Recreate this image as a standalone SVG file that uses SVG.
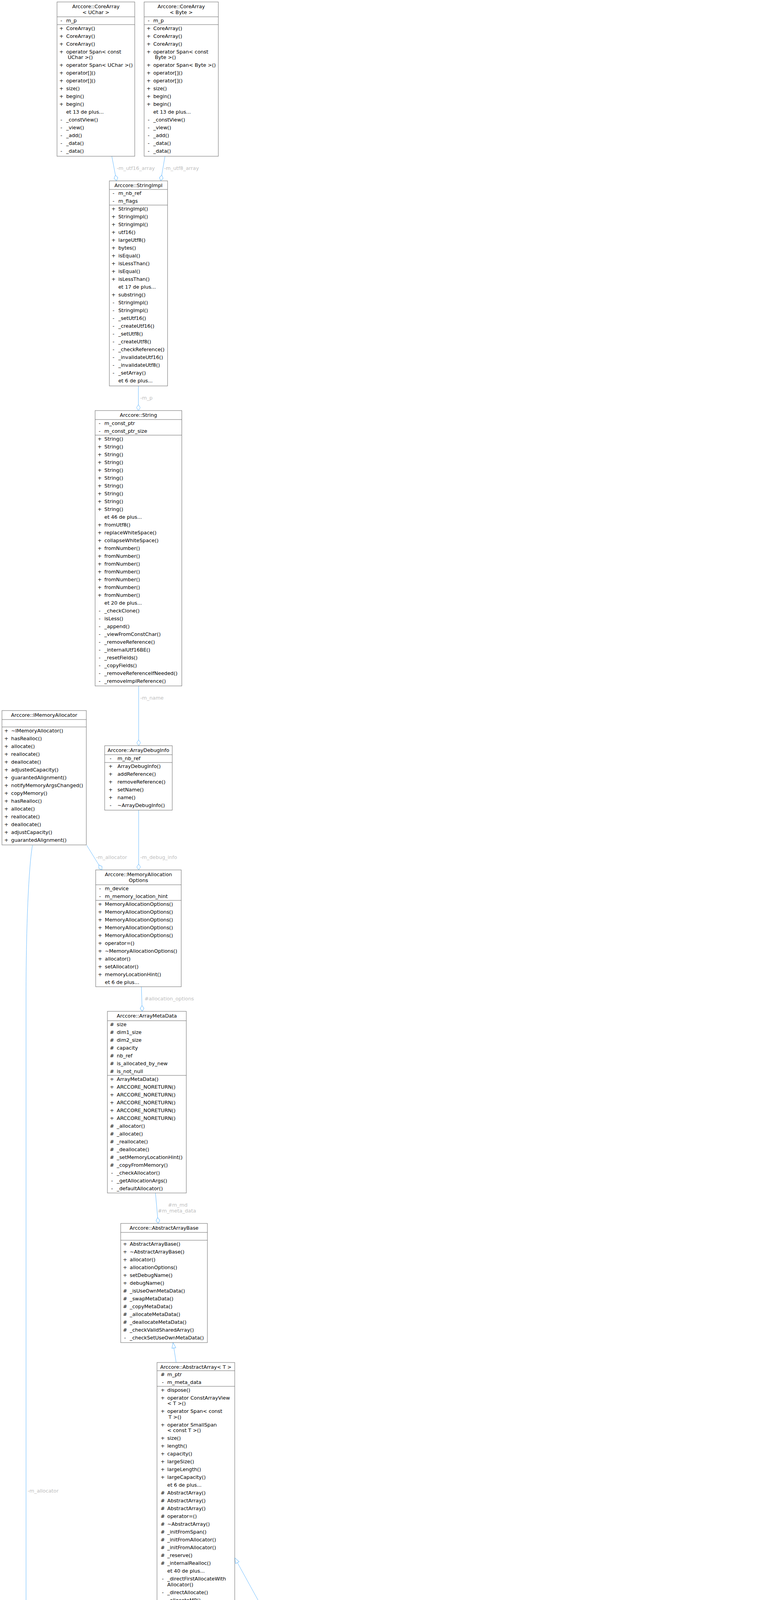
<svg xmlns="http://www.w3.org/2000/svg" width="1951" height="6260" viewBox="0 0 1951 6260">
<defs>
<style>
text{font-family:"DejaVu Sans",Verdana,sans-serif;font-size:12.8px;fill:#000}
.c{text-anchor:middle}
.b{fill:#fff;stroke:#666;stroke-width:1}
.h{fill:#999;stroke:#666;stroke-width:1}
.u{fill:#fff;stroke:#bfbfbf;stroke-width:1}
.d{fill:none;stroke:#666;stroke-width:1}
.du{fill:none;stroke:#bfbfbf;stroke-width:1}
.e{fill:none;stroke:#63b8ff;stroke-width:1}
.ed{marker-end:url(#dia)}
.ei{marker-end:url(#tri)}
.l{fill:#bebebe}
.lc{fill:#bebebe;text-anchor:middle}
</style>
<marker id="dia" markerUnits="userSpaceOnUse" markerWidth="17" markerHeight="12" refX="15" refY="5" orient="auto" overflow="visible"><path d="M0,5L7.5,0.2L15,5L7.5,9.8Z" fill="#fff" stroke="#63b8ff" stroke-width="1"/></marker>
<marker id="tri" markerUnits="userSpaceOnUse" markerWidth="15" markerHeight="11" refX="14" refY="5" orient="auto" overflow="visible"><path d="M0,0L14,5L0,10Z" fill="#fff" stroke="#63b8ff" stroke-width="1"/></marker>
</defs>
<rect width="1951" height="6260" fill="#fff"/>

<g id="connectors">
<path class="e ed" d="M286.3,400L298.3,463"/>
<path class="e ed" d="M422.4,400L411.6,463"/>
<path class="e ed" d="M354.3,988L354.3,1051"/>
<path class="e ed" d="M355,1756L355,1909"/>
<path class="e ed" d="M355,2074L355,2227"/>
<path class="e ed" d="M222,2164L261,2227"/>
<path class="e ed" d="M362,2526L364,2589"/>
<path class="e ed" d="M398,3054L405,3132"/>
<path class="e ei" d="M451,3488L443,3437"/>
<path class="e ei" d="M433,4200L439.4,4151"/>
<path class="e ei" d="M570.7,4200L563.6,4151"/>
<path class="e ei" d="M730,4222L601,3988"/>
<path class="e ei" d="M406,4701L403.6,4629"/>
<path class="e ei" d="M610.5,4701L610.7,4629"/>
<path class="e ei" d="M826.4,5028L826.6,4629"/>
<path class="e ei" d="M1340.6,5332L1405.6,4874"/>
<path class="e ed" d="M1195.5,4889L1258,5332"/>
<path class="e ed" d="M383,4981C370,5080 366,5200 375,5280C382,5340 395,5370 405,5395"/>
<path class="e ed" d="M582,4981C568,5070 555,5200 545,5300C541,5345 537,5375 535,5395"/>
<path class="e ed" d="M217,5004C222,5110 236,5230 250,5285C262,5325 290,5324 330,5322C370,5320 400,5350 421,5395"/>
<path class="e ed" d="M654,4981C673,5080 688,5230 690,5380C692,5560 700,5800 744,5935"/>
<path class="e ed" d="M826,5308L821,5935"/>
<path class="e ed" d="M522,5809C535,5890 575,5955 640,5998C672,6020 700,6036 718,6043"/>
<path class="e ed" d="M83,2164C72,2230 66.7,2400 66.7,2540L66.7,5600C66.7,5690 47,5720 47,5790C47,5850 100,5895 200,5935C320,5985 520,6040 718,6078"/>
<path class="e ed" d="M154,5004C135,5100 95,5280 87,5400C80,5530 100,5660 150,5740C210,5840 300,5950 420,6025C520,6075 630,6088 718,6090"/>
<path class="e ed" d="M989,5729C970,5790 920,5880 897,5935"/>
<path class="e ed" d="M1191,5856C1150,5925 1060,5985 990,6015C960,6030 940,6042 922,6050"/>
<path class="e ed" d="M1543,5682C1505,5800 1460,5850 1390,5893C1280,5960 1100,6040 922,6078"/>
<path class="e ed" d="M1828,5645C1812,5760 1775,5840 1700,5885C1580,5950 1420,5985 1276,6015C1140,6043 1020,6062 922,6078"/>
<text class="l" x="299" y="434.5">-m_utf16_array</text>
<text class="l" x="420" y="434.5">-m_utf8_array</text>
<text class="l" x="359" y="1023">-m_p</text>
<text class="l" x="359" y="1790.5">-m_name</text>
<text class="l" x="359" y="2198.5">-m_debug_info</text>
<text class="l" x="246" y="2198.5">-m_allocator</text>
<text class="l" x="370" y="2560.5">#allocation_options</text>
<text class="lc" x="455" y="3088.5">#m_md</text>
<text class="lc" x="453" y="3103.5">#m_meta_data</text>
<text class="lc" x="1300" y="5170.5">-m_instance</text>
<text class="lc" x="464.6" y="5171.5">-m_compare_status_list</text>
<text class="lc" x="621" y="5171.5">-m_variables</text>
<text class="lc" x="312" y="5149">+elapsed_time</text>
<text class="lc" x="312" y="5164">+state</text>
<text class="lc" x="312" y="5179">+vs</text>
<text class="lc" x="312" y="5193.5">-m_var_syncer</text>
<text class="l" x="70.7" y="3821">-m_allocator</text>
<text class="l" x="205" y="5605">-m_variable_synchronizer</text>
<text class="l" x="731.8" y="5605">-m_variables</text>
<text class="l" x="831" y="5605">-m_data_list</text>
<text class="l" x="568" y="5907.5">-m_event_args</text>
<text class="l" x="912" y="5906.5">-m_variable_synchronizer_mng</text>
<text class="l" x="1157" y="5906.5">-m_dispatcher</text>
<text class="l" x="1386.7" y="5906.5">-m_multi_dispatcher</text>
<text class="l" x="1669" y="5906.5">-m_synchronize_result</text>
</g>

<g id="n-corearray-uchar">
<rect class="b" x="146" y="5" width="199" height="395"/>
<text class="c" x="245.5" y="21">Arccore::CoreArray</text>
<text class="c" x="245.5" y="35.5">&lt; UChar &gt;</text>
<path class="d" d="M146,43H345M146,63H345"/>
<text class="c"><tspan x="157" y="56.5">-</tspan><tspan x="157" y="76.5">+</tspan><tspan x="157" y="96.5">+</tspan><tspan x="157" y="116.5">+</tspan><tspan x="157" y="136.5">+</tspan><tspan x="157" y="171">+</tspan><tspan x="157" y="191">+</tspan><tspan x="157" y="211">+</tspan><tspan x="157" y="231">+</tspan><tspan x="157" y="251">+</tspan><tspan x="157" y="271">+</tspan><tspan x="157" y="311">-</tspan><tspan x="157" y="331">-</tspan><tspan x="157" y="351">-</tspan><tspan x="157" y="371">-</tspan><tspan x="157" y="391">-</tspan></text>
<text><tspan x="169.5" y="56.5">m_p</tspan><tspan x="169.5" y="76.5">CoreArray()</tspan><tspan x="169.5" y="96.5">CoreArray()</tspan><tspan x="169.5" y="116.5">CoreArray()</tspan><tspan x="169.5" y="136.5">operator Span&lt; const</tspan><tspan x="173.5" y="151">UChar &gt;()</tspan><tspan x="169.5" y="171">operator Span&lt; UChar &gt;()</tspan><tspan x="169.5" y="191">operator[]()</tspan><tspan x="169.5" y="211">operator[]()</tspan><tspan x="169.5" y="231">size()</tspan><tspan x="169.5" y="251">begin()</tspan><tspan x="169.5" y="271">begin()</tspan><tspan x="169.5" y="291">et 13 de plus...</tspan><tspan x="169.5" y="311">_constView()</tspan><tspan x="169.5" y="331">_view()</tspan><tspan x="169.5" y="351">_add()</tspan><tspan x="169.5" y="371">_data()</tspan><tspan x="169.5" y="391">_data()</tspan></text>
</g>

<g id="n-corearray-byte">
<rect class="b" x="369" y="5" width="190" height="395"/>
<text class="c" x="464" y="21">Arccore::CoreArray</text>
<text class="c" x="464" y="35.5">&lt; Byte &gt;</text>
<path class="d" d="M369,43H559M369,63H559"/>
<text class="c"><tspan x="380.5" y="56.5">-</tspan><tspan x="380.5" y="76.5">+</tspan><tspan x="380.5" y="96.5">+</tspan><tspan x="380.5" y="116.5">+</tspan><tspan x="380.5" y="136.5">+</tspan><tspan x="380.5" y="171">+</tspan><tspan x="380.5" y="191">+</tspan><tspan x="380.5" y="211">+</tspan><tspan x="380.5" y="231">+</tspan><tspan x="380.5" y="251">+</tspan><tspan x="380.5" y="271">+</tspan><tspan x="380.5" y="311">-</tspan><tspan x="380.5" y="331">-</tspan><tspan x="380.5" y="351">-</tspan><tspan x="380.5" y="371">-</tspan><tspan x="380.5" y="391">-</tspan></text>
<text><tspan x="392.5" y="56.5">m_p</tspan><tspan x="392.5" y="76.5">CoreArray()</tspan><tspan x="392.5" y="96.5">CoreArray()</tspan><tspan x="392.5" y="116.5">CoreArray()</tspan><tspan x="392.5" y="136.5">operator Span&lt; const</tspan><tspan x="396.5" y="151">Byte &gt;()</tspan><tspan x="392.5" y="171">operator Span&lt; Byte &gt;()</tspan><tspan x="392.5" y="191">operator[]()</tspan><tspan x="392.5" y="211">operator[]()</tspan><tspan x="392.5" y="231">size()</tspan><tspan x="392.5" y="251">begin()</tspan><tspan x="392.5" y="271">begin()</tspan><tspan x="392.5" y="291">et 13 de plus...</tspan><tspan x="392.5" y="311">_constView()</tspan><tspan x="392.5" y="331">_view()</tspan><tspan x="392.5" y="351">_add()</tspan><tspan x="392.5" y="371">_data()</tspan><tspan x="392.5" y="391">_data()</tspan></text>
</g>

<g id="n-stringimpl">
<rect class="b" x="280" y="463" width="149" height="525"/>
<text class="c" x="354.5" y="478.5">Arccore::StringImpl</text>
<path class="d" d="M280,485H429M280,525H429"/>
<text class="c"><tspan x="290.5" y="498.5">-</tspan><tspan x="290.5" y="518.5">-</tspan><tspan x="290.5" y="538.5">+</tspan><tspan x="290.5" y="558.5">+</tspan><tspan x="290.5" y="578.5">+</tspan><tspan x="290.5" y="598.5">+</tspan><tspan x="290.5" y="618.5">+</tspan><tspan x="290.5" y="638.5">+</tspan><tspan x="290.5" y="658.5">+</tspan><tspan x="290.5" y="678.5">+</tspan><tspan x="290.5" y="698.5">+</tspan><tspan x="290.5" y="718.5">+</tspan><tspan x="290.5" y="758.5">+</tspan><tspan x="290.5" y="778.5">-</tspan><tspan x="290.5" y="798.5">-</tspan><tspan x="290.5" y="818.5">-</tspan><tspan x="290.5" y="838.5">-</tspan><tspan x="290.5" y="858.5">-</tspan><tspan x="290.5" y="878.5">-</tspan><tspan x="290.5" y="898.5">-</tspan><tspan x="290.5" y="918.5">-</tspan><tspan x="290.5" y="938.5">-</tspan><tspan x="290.5" y="958.5">-</tspan></text>
<text><tspan x="303" y="498.5">m_nb_ref</tspan><tspan x="303" y="518.5">m_flags</tspan><tspan x="303" y="538.5">StringImpl()</tspan><tspan x="303" y="558.5">StringImpl()</tspan><tspan x="303" y="578.5">StringImpl()</tspan><tspan x="303" y="598.5">utf16()</tspan><tspan x="303" y="618.5">largeUtf8()</tspan><tspan x="303" y="638.5">bytes()</tspan><tspan x="303" y="658.5">isEqual()</tspan><tspan x="303" y="678.5">isLessThan()</tspan><tspan x="303" y="698.5">isEqual()</tspan><tspan x="303" y="718.5">isLessThan()</tspan><tspan x="303" y="738.5">et 17 de plus...</tspan><tspan x="303" y="758.5">substring()</tspan><tspan x="303" y="778.5">StringImpl()</tspan><tspan x="303" y="798.5">StringImpl()</tspan><tspan x="303" y="818.5">_setUtf16()</tspan><tspan x="303" y="838.5">_createUtf16()</tspan><tspan x="303" y="858.5">_setUtf8()</tspan><tspan x="303" y="878.5">_createUtf8()</tspan><tspan x="303" y="898.5">_checkReference()</tspan><tspan x="303" y="918.5">_invalidateUtf16()</tspan><tspan x="303" y="938.5">_invalidateUtf8()</tspan><tspan x="303" y="958.5">_setArray()</tspan><tspan x="303" y="978.5">et 6 de plus...</tspan></text>
</g>

<g id="n-string">
<rect class="b" x="243.5" y="1051" width="222" height="705"/>
<text class="c" x="354.5" y="1066.5">Arccore::String</text>
<path class="d" d="M243.5,1074H465.5M243.5,1114H465.5"/>
<text class="c"><tspan x="255" y="1087.5">-</tspan><tspan x="255" y="1107.5">-</tspan><tspan x="255" y="1127.5">+</tspan><tspan x="255" y="1147.5">+</tspan><tspan x="255" y="1167.5">+</tspan><tspan x="255" y="1187.5">+</tspan><tspan x="255" y="1207.5">+</tspan><tspan x="255" y="1227.5">+</tspan><tspan x="255" y="1247.5">+</tspan><tspan x="255" y="1267.5">+</tspan><tspan x="255" y="1287.5">+</tspan><tspan x="255" y="1307.5">+</tspan><tspan x="255" y="1347.5">+</tspan><tspan x="255" y="1367.5">+</tspan><tspan x="255" y="1387.5">+</tspan><tspan x="255" y="1407.5">+</tspan><tspan x="255" y="1427.5">+</tspan><tspan x="255" y="1447.5">+</tspan><tspan x="255" y="1467.5">+</tspan><tspan x="255" y="1487.5">+</tspan><tspan x="255" y="1507.5">+</tspan><tspan x="255" y="1527.5">+</tspan><tspan x="255" y="1567.5">-</tspan><tspan x="255" y="1587.5">-</tspan><tspan x="255" y="1607.5">-</tspan><tspan x="255" y="1627.5">-</tspan><tspan x="255" y="1647.5">-</tspan><tspan x="255" y="1667.5">-</tspan><tspan x="255" y="1687.5">-</tspan><tspan x="255" y="1707.5">-</tspan><tspan x="255" y="1727.5">-</tspan><tspan x="255" y="1747.5">-</tspan></text>
<text><tspan x="267.3" y="1087.5">m_const_ptr</tspan><tspan x="267.3" y="1107.5">m_const_ptr_size</tspan><tspan x="267.3" y="1127.5">String()</tspan><tspan x="267.3" y="1147.5">String()</tspan><tspan x="267.3" y="1167.5">String()</tspan><tspan x="267.3" y="1187.5">String()</tspan><tspan x="267.3" y="1207.5">String()</tspan><tspan x="267.3" y="1227.5">String()</tspan><tspan x="267.3" y="1247.5">String()</tspan><tspan x="267.3" y="1267.5">String()</tspan><tspan x="267.3" y="1287.5">String()</tspan><tspan x="267.3" y="1307.5">String()</tspan><tspan x="267.3" y="1327.5">et 46 de plus...</tspan><tspan x="267.3" y="1347.5">fromUtf8()</tspan><tspan x="267.3" y="1367.5">replaceWhiteSpace()</tspan><tspan x="267.3" y="1387.5">collapseWhiteSpace()</tspan><tspan x="267.3" y="1407.5">fromNumber()</tspan><tspan x="267.3" y="1427.5">fromNumber()</tspan><tspan x="267.3" y="1447.5">fromNumber()</tspan><tspan x="267.3" y="1467.5">fromNumber()</tspan><tspan x="267.3" y="1487.5">fromNumber()</tspan><tspan x="267.3" y="1507.5">fromNumber()</tspan><tspan x="267.3" y="1527.5">fromNumber()</tspan><tspan x="267.3" y="1547.5">et 20 de plus...</tspan><tspan x="267.3" y="1567.5">_checkClone()</tspan><tspan x="267.3" y="1587.5">isLess()</tspan><tspan x="267.3" y="1607.5">_append()</tspan><tspan x="267.3" y="1627.5">_viewFromConstChar()</tspan><tspan x="267.3" y="1647.5">_removeReference()</tspan><tspan x="267.3" y="1667.5">_internalUtf16BE()</tspan><tspan x="267.3" y="1687.5">_resetFields()</tspan><tspan x="267.3" y="1707.5">_copyFields()</tspan><tspan x="267.3" y="1727.5">_removeReferenceIfNeeded()</tspan><tspan x="267.3" y="1747.5">_removeImplReference()</tspan></text>
</g>

<g id="n-imemoryallocator">
<rect class="b" x="5" y="1819" width="216" height="344"/>
<text class="c" x="113" y="1834.5">Arccore::IMemoryAllocator</text>
<path class="d" d="M5,1842H221M5,1861H221"/>
<text class="c"><tspan x="16" y="1874.5">+</tspan><tspan x="16" y="1894.5">+</tspan><tspan x="16" y="1914.5">+</tspan><tspan x="16" y="1934.5">+</tspan><tspan x="16" y="1954.5">+</tspan><tspan x="16" y="1974.5">+</tspan><tspan x="16" y="1994.5">+</tspan><tspan x="16" y="2014.5">+</tspan><tspan x="16" y="2034.5">+</tspan><tspan x="16" y="2054.5">+</tspan><tspan x="16" y="2074.5">+</tspan><tspan x="16" y="2094.5">+</tspan><tspan x="16" y="2114.5">+</tspan><tspan x="16" y="2134.5">+</tspan><tspan x="16" y="2154.5">+</tspan></text>
<text><tspan x="28.6" y="1874.5">~IMemoryAllocator()</tspan><tspan x="28.6" y="1894.5">hasRealloc()</tspan><tspan x="28.6" y="1914.5">allocate()</tspan><tspan x="28.6" y="1934.5">reallocate()</tspan><tspan x="28.6" y="1954.5">deallocate()</tspan><tspan x="28.6" y="1974.5">adjustedCapacity()</tspan><tspan x="28.6" y="1994.5">guarantedAlignment()</tspan><tspan x="28.6" y="2014.5">notifyMemoryArgsChanged()</tspan><tspan x="28.6" y="2034.5">copyMemory()</tspan><tspan x="28.6" y="2054.5">hasRealloc()</tspan><tspan x="28.6" y="2074.5">allocate()</tspan><tspan x="28.6" y="2094.5">reallocate()</tspan><tspan x="28.6" y="2114.5">deallocate()</tspan><tspan x="28.6" y="2134.5">adjustCapacity()</tspan><tspan x="28.6" y="2154.5">guarantedAlignment()</tspan></text>
</g>

<g id="n-arraydebuginfo">
<rect class="b" x="268" y="1909" width="173" height="165"/>
<text class="c" x="354.5" y="1924.5">Arccore::ArrayDebugInfo</text>
<path class="d" d="M268,1932H441M268,1952H441"/>
<text class="c"><tspan x="283" y="1945.5">-</tspan><tspan x="283" y="1965.5">+</tspan><tspan x="283" y="1985.5">+</tspan><tspan x="283" y="2005.5">+</tspan><tspan x="283" y="2025.5">+</tspan><tspan x="283" y="2045.5">+</tspan><tspan x="283" y="2065.5">-</tspan></text>
<text><tspan x="300.7" y="1945.5">m_nb_ref</tspan><tspan x="300.7" y="1965.5">ArrayDebugInfo()</tspan><tspan x="300.7" y="1985.5">addReference()</tspan><tspan x="300.7" y="2005.5">removeReference()</tspan><tspan x="300.7" y="2025.5">setName()</tspan><tspan x="300.7" y="2045.5">name()</tspan><tspan x="300.7" y="2065.5">~ArrayDebugInfo()</tspan></text>
</g>

<g id="n-memoryallocationoptions">
<rect class="b" x="245" y="2227" width="219" height="299"/>
<text class="c" x="354.5" y="2243">Arccore::MemoryAllocation</text>
<text class="c" x="354.5" y="2257.5">Options</text>
<path class="d" d="M245,2265H464M245,2305H464"/>
<text class="c"><tspan x="256" y="2278.5">-</tspan><tspan x="256" y="2298.5">-</tspan><tspan x="256" y="2318.5">+</tspan><tspan x="256" y="2338.5">+</tspan><tspan x="256" y="2358.5">+</tspan><tspan x="256" y="2378.5">+</tspan><tspan x="256" y="2398.5">+</tspan><tspan x="256" y="2418.5">+</tspan><tspan x="256" y="2438.5">+</tspan><tspan x="256" y="2458.5">+</tspan><tspan x="256" y="2478.5">+</tspan><tspan x="256" y="2498.5">+</tspan></text>
<text><tspan x="268.6" y="2278.5">m_device</tspan><tspan x="268.6" y="2298.5">m_memory_location_hint</tspan><tspan x="268.6" y="2318.5">MemoryAllocationOptions()</tspan><tspan x="268.6" y="2338.5">MemoryAllocationOptions()</tspan><tspan x="268.6" y="2358.5">MemoryAllocationOptions()</tspan><tspan x="268.6" y="2378.5">MemoryAllocationOptions()</tspan><tspan x="268.6" y="2398.5">MemoryAllocationOptions()</tspan><tspan x="268.6" y="2418.5">operator=()</tspan><tspan x="268.6" y="2438.5">~MemoryAllocationOptions()</tspan><tspan x="268.6" y="2458.5">allocator()</tspan><tspan x="268.6" y="2478.5">setAllocator()</tspan><tspan x="268.6" y="2498.5">memoryLocationHint()</tspan><tspan x="268.6" y="2518.5">et 6 de plus...</tspan></text>
</g>

<g id="n-arraymetadata">
<rect class="b" x="275" y="2589" width="202" height="465"/>
<text class="c" x="376" y="2604.5">Arccore::ArrayMetaData</text>
<path class="d" d="M275,2613H477M275,2753H477"/>
<text class="c"><tspan x="286.7" y="2626.5">#</tspan><tspan x="286.7" y="2646.5">#</tspan><tspan x="286.7" y="2666.5">#</tspan><tspan x="286.7" y="2686.5">#</tspan><tspan x="286.7" y="2706.5">#</tspan><tspan x="286.7" y="2726.5">#</tspan><tspan x="286.7" y="2746.5">#</tspan><tspan x="286.7" y="2766.5">+</tspan><tspan x="286.7" y="2786.5">+</tspan><tspan x="286.7" y="2806.5">+</tspan><tspan x="286.7" y="2826.5">+</tspan><tspan x="286.7" y="2846.5">+</tspan><tspan x="286.7" y="2866.5">+</tspan><tspan x="286.7" y="2886.5">#</tspan><tspan x="286.7" y="2906.5">#</tspan><tspan x="286.7" y="2926.5">#</tspan><tspan x="286.7" y="2946.5">#</tspan><tspan x="286.7" y="2966.5">#</tspan><tspan x="286.7" y="2986.5">#</tspan><tspan x="286.7" y="3006.5">-</tspan><tspan x="286.7" y="3026.5">-</tspan><tspan x="286.7" y="3046.5">-</tspan></text>
<text><tspan x="299" y="2626.5">size</tspan><tspan x="299" y="2646.5">dim1_size</tspan><tspan x="299" y="2666.5">dim2_size</tspan><tspan x="299" y="2686.5">capacity</tspan><tspan x="299" y="2706.5">nb_ref</tspan><tspan x="299" y="2726.5">is_allocated_by_new</tspan><tspan x="299" y="2746.5">is_not_null</tspan><tspan x="299" y="2766.5">ArrayMetaData()</tspan><tspan x="299" y="2786.5">ARCCORE_NORETURN()</tspan><tspan x="299" y="2806.5">ARCCORE_NORETURN()</tspan><tspan x="299" y="2826.5">ARCCORE_NORETURN()</tspan><tspan x="299" y="2846.5">ARCCORE_NORETURN()</tspan><tspan x="299" y="2866.5">ARCCORE_NORETURN()</tspan><tspan x="299" y="2886.5">_allocator()</tspan><tspan x="299" y="2906.5">_allocate()</tspan><tspan x="299" y="2926.5">_reallocate()</tspan><tspan x="299" y="2946.5">_deallocate()</tspan><tspan x="299" y="2966.5">_setMemoryLocationHint()</tspan><tspan x="299" y="2986.5">_copyFromMemory()</tspan><tspan x="299" y="3006.5">_checkAllocator()</tspan><tspan x="299" y="3026.5">_getAllocationArgs()</tspan><tspan x="299" y="3046.5">_defaultAllocator()</tspan></text>
</g>

<g id="n-abstractarraybase">
<rect class="b" x="309" y="3132" width="222" height="305"/>
<text class="c" x="420" y="3147.5">Arccore::AbstractArrayBase</text>
<path class="d" d="M309,3155H531M309,3175H531"/>
<text class="c"><tspan x="320" y="3188.5">+</tspan><tspan x="320" y="3208.5">+</tspan><tspan x="320" y="3228.5">+</tspan><tspan x="320" y="3248.5">+</tspan><tspan x="320" y="3268.5">+</tspan><tspan x="320" y="3288.5">+</tspan><tspan x="320" y="3308.5">#</tspan><tspan x="320" y="3328.5">#</tspan><tspan x="320" y="3348.5">#</tspan><tspan x="320" y="3368.5">#</tspan><tspan x="320" y="3388.5">#</tspan><tspan x="320" y="3408.5">#</tspan><tspan x="320" y="3428.5">-</tspan></text>
<text><tspan x="332.3" y="3188.5">AbstractArrayBase()</tspan><tspan x="332.3" y="3208.5">~AbstractArrayBase()</tspan><tspan x="332.3" y="3228.5">allocator()</tspan><tspan x="332.3" y="3248.5">allocationOptions()</tspan><tspan x="332.3" y="3268.5">setDebugName()</tspan><tspan x="332.3" y="3288.5">debugName()</tspan><tspan x="332.3" y="3308.5">_isUseOwnMetaData()</tspan><tspan x="332.3" y="3328.5">_swapMetaData()</tspan><tspan x="332.3" y="3348.5">_copyMetaData()</tspan><tspan x="332.3" y="3368.5">_allocateMetaData()</tspan><tspan x="332.3" y="3388.5">_deallocateMetaData()</tspan><tspan x="332.3" y="3408.5">_checkValidSharedArray()</tspan><tspan x="332.3" y="3428.5">_checkSetUseOwnMetaData()</tspan></text>
</g>

<g id="n-abstractarray">
<rect class="b" x="402" y="3488" width="199" height="663"/>
<text class="c" x="501.5" y="3503.5">Arccore::AbstractArray&lt; T &gt;</text>
<path class="d" d="M402,3509H601M402,3549H601"/>
<text class="c"><tspan x="416.7" y="3522.5">#</tspan><tspan x="416.7" y="3542.5">-</tspan><tspan x="416.7" y="3562.5">+</tspan><tspan x="416.7" y="3582.5">+</tspan><tspan x="416.7" y="3617">+</tspan><tspan x="416.7" y="3651.5">+</tspan><tspan x="416.7" y="3686">+</tspan><tspan x="416.7" y="3706">+</tspan><tspan x="416.7" y="3726">+</tspan><tspan x="416.7" y="3746">+</tspan><tspan x="416.7" y="3766">+</tspan><tspan x="416.7" y="3786">+</tspan><tspan x="416.7" y="3826">#</tspan><tspan x="416.7" y="3846">#</tspan><tspan x="416.7" y="3866">#</tspan><tspan x="416.7" y="3886">#</tspan><tspan x="416.7" y="3906">#</tspan><tspan x="416.7" y="3926">#</tspan><tspan x="416.7" y="3946">#</tspan><tspan x="416.7" y="3966">#</tspan><tspan x="416.7" y="3986">#</tspan><tspan x="416.7" y="4006">#</tspan><tspan x="416.7" y="4046">-</tspan><tspan x="416.7" y="4080.5">-</tspan><tspan x="416.7" y="4100.5">-</tspan><tspan x="416.7" y="4120.5">-</tspan><tspan x="416.7" y="4140.5">-</tspan></text>
<text><tspan x="428.3" y="3522.5">m_ptr</tspan><tspan x="428.3" y="3542.5">m_meta_data</tspan><tspan x="428.3" y="3562.5">dispose()</tspan><tspan x="428.3" y="3582.5">operator ConstArrayView</tspan><tspan x="428.3" y="3597">&lt; T &gt;()</tspan><tspan x="428.3" y="3617">operator Span&lt; const</tspan><tspan x="431.6" y="3631.5">T &gt;()</tspan><tspan x="428.3" y="3651.5">operator SmallSpan</tspan><tspan x="428.3" y="3666">&lt; const T &gt;()</tspan><tspan x="428.3" y="3686">size()</tspan><tspan x="428.3" y="3706">length()</tspan><tspan x="428.3" y="3726">capacity()</tspan><tspan x="428.3" y="3746">largeSize()</tspan><tspan x="428.3" y="3766">largeLength()</tspan><tspan x="428.3" y="3786">largeCapacity()</tspan><tspan x="428.3" y="3806">et 6 de plus...</tspan><tspan x="428.3" y="3826">AbstractArray()</tspan><tspan x="428.3" y="3846">AbstractArray()</tspan><tspan x="428.3" y="3866">AbstractArray()</tspan><tspan x="428.3" y="3886">operator=()</tspan><tspan x="428.3" y="3906">~AbstractArray()</tspan><tspan x="428.3" y="3926">_initFromSpan()</tspan><tspan x="428.3" y="3946">_initFromAllocator()</tspan><tspan x="428.3" y="3966">_initFromAllocator()</tspan><tspan x="428.3" y="3986">_reserve()</tspan><tspan x="428.3" y="4006">_internalRealloc()</tspan><tspan x="428.3" y="4026">et 40 de plus...</tspan><tspan x="428.3" y="4046">_directFirstAllocateWith</tspan><tspan x="428.3" y="4060.5">Allocator()</tspan><tspan x="428.3" y="4080.5">_directAllocate()</tspan><tspan x="428.3" y="4100.5">_allocateMP()</tspan><tspan x="428.3" y="4120.5">_directReAllocate()</tspan><tspan x="428.3" y="4140.5">_setToSharedNull()</tspan></text>
</g>

<g id="n-array-1">
<rect class="b" x="298.4" y="4200" width="192.4" height="429"/>
<text class="c" x="394.6" y="4215.5">Arccore::Array&lt; T &gt;</text>
<path class="d" d="M298.4,4222H490.8M298.4,4243H490.8"/>
<text class="c"><tspan x="309.8" y="4256.5">+</tspan><tspan x="309.8" y="4276.5">+</tspan><tspan x="309.8" y="4311">+</tspan><tspan x="309.8" y="4345.5">+</tspan><tspan x="309.8" y="4380">+</tspan><tspan x="309.8" y="4400">+</tspan><tspan x="309.8" y="4420">+</tspan><tspan x="309.8" y="4440">+</tspan><tspan x="309.8" y="4460">+</tspan><tspan x="309.8" y="4480">+</tspan><tspan x="309.8" y="4520">#</tspan><tspan x="309.8" y="4540">#</tspan><tspan x="309.8" y="4560">#</tspan><tspan x="309.8" y="4580">-</tspan><tspan x="309.8" y="4600">-</tspan><tspan x="309.8" y="4620">-</tspan></text>
<text><tspan x="321.6" y="4256.5">~Array()</tspan><tspan x="321.6" y="4276.5">operator ConstArrayView</tspan><tspan x="321.6" y="4291">&lt; T &gt;()</tspan><tspan x="321.6" y="4311">operator ArrayView</tspan><tspan x="321.6" y="4325.5">&lt; T &gt;()</tspan><tspan x="321.6" y="4345.5">operator Span&lt; const</tspan><tspan x="325.1" y="4360">T &gt;()</tspan><tspan x="321.6" y="4380">operator Span&lt; T &gt;()</tspan><tspan x="321.6" y="4400">constView()</tspan><tspan x="321.6" y="4420">constSpan()</tspan><tspan x="321.6" y="4440">subConstView()</tspan><tspan x="321.6" y="4460">view()</tspan><tspan x="321.6" y="4480">span()</tspan><tspan x="321.6" y="4500">et 53 de plus...</tspan><tspan x="321.6" y="4520">Array()</tspan><tspan x="321.6" y="4540">Array()</tspan><tspan x="321.6" y="4560">_initFromInitializerList()</tspan><tspan x="321.6" y="4580">Array()</tspan><tspan x="321.6" y="4600">operator=()</tspan><tspan x="321.6" y="4620">TV_ttf_display_type()</tspan></text>
</g>

<g id="n-array-2">
<rect class="b" x="514.7" y="4200" width="192" height="429"/>
<text class="c" x="610.7" y="4215.5">Arccore::Array&lt; T &gt;</text>
<path class="d" d="M514.7,4222H706.7M514.7,4243H706.7"/>
<text class="c"><tspan x="526.1" y="4256.5">+</tspan><tspan x="526.1" y="4276.5">+</tspan><tspan x="526.1" y="4311">+</tspan><tspan x="526.1" y="4345.5">+</tspan><tspan x="526.1" y="4380">+</tspan><tspan x="526.1" y="4400">+</tspan><tspan x="526.1" y="4420">+</tspan><tspan x="526.1" y="4440">+</tspan><tspan x="526.1" y="4460">+</tspan><tspan x="526.1" y="4480">+</tspan><tspan x="526.1" y="4520">#</tspan><tspan x="526.1" y="4540">#</tspan><tspan x="526.1" y="4560">#</tspan><tspan x="526.1" y="4580">-</tspan><tspan x="526.1" y="4600">-</tspan><tspan x="526.1" y="4620">-</tspan></text>
<text><tspan x="537.9" y="4256.5">~Array()</tspan><tspan x="537.9" y="4276.5">operator ConstArrayView</tspan><tspan x="537.9" y="4291">&lt; T &gt;()</tspan><tspan x="537.9" y="4311">operator ArrayView</tspan><tspan x="537.9" y="4325.5">&lt; T &gt;()</tspan><tspan x="537.9" y="4345.5">operator Span&lt; const</tspan><tspan x="541.4" y="4360">T &gt;()</tspan><tspan x="537.9" y="4380">operator Span&lt; T &gt;()</tspan><tspan x="537.9" y="4400">constView()</tspan><tspan x="537.9" y="4420">constSpan()</tspan><tspan x="537.9" y="4440">subConstView()</tspan><tspan x="537.9" y="4460">view()</tspan><tspan x="537.9" y="4480">span()</tspan><tspan x="537.9" y="4500">et 53 de plus...</tspan><tspan x="537.9" y="4520">Array()</tspan><tspan x="537.9" y="4540">Array()</tspan><tspan x="537.9" y="4560">_initFromInitializerList()</tspan><tspan x="537.9" y="4580">Array()</tspan><tspan x="537.9" y="4600">operator=()</tspan><tspan x="537.9" y="4620">TV_ttf_display_type()</tspan></text>
</g>

<g id="n-array-3">
<rect class="b" x="730.2" y="4200" width="192.4" height="429"/>
<text class="c" x="826.4" y="4215.5">Arccore::Array&lt; T &gt;</text>
<path class="d" d="M730.2,4222H922.6M730.2,4243H922.6"/>
<text class="c"><tspan x="741.6" y="4256.5">+</tspan><tspan x="741.6" y="4276.5">+</tspan><tspan x="741.6" y="4311">+</tspan><tspan x="741.6" y="4345.5">+</tspan><tspan x="741.6" y="4380">+</tspan><tspan x="741.6" y="4400">+</tspan><tspan x="741.6" y="4420">+</tspan><tspan x="741.6" y="4440">+</tspan><tspan x="741.6" y="4460">+</tspan><tspan x="741.6" y="4480">+</tspan><tspan x="741.6" y="4520">#</tspan><tspan x="741.6" y="4540">#</tspan><tspan x="741.6" y="4560">#</tspan><tspan x="741.6" y="4580">-</tspan><tspan x="741.6" y="4600">-</tspan><tspan x="741.6" y="4620">-</tspan></text>
<text><tspan x="753.4" y="4256.5">~Array()</tspan><tspan x="753.4" y="4276.5">operator ConstArrayView</tspan><tspan x="753.4" y="4291">&lt; T &gt;()</tspan><tspan x="753.4" y="4311">operator ArrayView</tspan><tspan x="753.4" y="4325.5">&lt; T &gt;()</tspan><tspan x="753.4" y="4345.5">operator Span&lt; const</tspan><tspan x="756.9" y="4360">T &gt;()</tspan><tspan x="753.4" y="4380">operator Span&lt; T &gt;()</tspan><tspan x="753.4" y="4400">constView()</tspan><tspan x="753.4" y="4420">constSpan()</tspan><tspan x="753.4" y="4440">subConstView()</tspan><tspan x="753.4" y="4460">view()</tspan><tspan x="753.4" y="4480">span()</tspan><tspan x="753.4" y="4500">et 53 de plus...</tspan><tspan x="753.4" y="4520">Array()</tspan><tspan x="753.4" y="4540">Array()</tspan><tspan x="753.4" y="4560">_initFromInitializerList()</tspan><tspan x="753.4" y="4580">Array()</tspan><tspan x="753.4" y="4600">operator=()</tspan><tspan x="753.4" y="4620">TV_ttf_display_type()</tspan></text>
</g>

<g id="n-ivariablesynchronizer">
<rect class="b" x="104" y="4679" width="208" height="325"/>
<text class="c" x="208" y="4694.5">Arcane::IVariableSynchronizer</text>
<path class="d" d="M104,4701H312M104,4721H312"/>
<text class="c"><tspan x="119" y="4734.5">+</tspan><tspan x="119" y="4754.5">+</tspan><tspan x="119" y="4774.5">+</tspan><tspan x="119" y="4794.5">+</tspan><tspan x="119" y="4814.5">+</tspan><tspan x="119" y="4834.5">+</tspan><tspan x="119" y="4854.5">+</tspan><tspan x="119" y="4874.5">+</tspan><tspan x="119" y="4894.5">+</tspan><tspan x="119" y="4914.5">+</tspan><tspan x="119" y="4934.5">+</tspan><tspan x="119" y="4954.5">+</tspan><tspan x="119" y="4974.5">+</tspan><tspan x="119" y="4994.5">+</tspan></text>
<text><tspan x="135.5" y="4734.5">~IVariableSynchronizer()</tspan><tspan x="135.5" y="4754.5">parallelMng()</tspan><tspan x="135.5" y="4774.5">itemGroup()</tspan><tspan x="135.5" y="4794.5">compute()</tspan><tspan x="135.5" y="4814.5">changeLocalIds()</tspan><tspan x="135.5" y="4834.5">synchronize()</tspan><tspan x="135.5" y="4854.5">synchronize()</tspan><tspan x="135.5" y="4874.5">synchronize()</tspan><tspan x="135.5" y="4894.5">synchronize()</tspan><tspan x="135.5" y="4914.5">communicatingRanks()</tspan><tspan x="135.5" y="4934.5">sharedItems()</tspan><tspan x="135.5" y="4954.5">ghostItems()</tspan><tspan x="135.5" y="4974.5">synchronizeData()</tspan><tspan x="135.5" y="4994.5">onSynchronized()</tspan></text>
</g>

<g id="n-uniquearray-comparestatus">
<rect class="b" x="336" y="4701" width="152" height="280"/>
<text class="c" x="412" y="4717">Arccore::UniqueArray</text>
<text class="c" x="412" y="4731.5">&lt; CompareStatus &gt;</text>
<path class="d" d="M336,4739H488M336,4758H488"/>
<text class="c"><tspan x="353" y="4771.5">+</tspan><tspan x="353" y="4791.5">+</tspan><tspan x="353" y="4811.5">+</tspan><tspan x="353" y="4831.5">+</tspan><tspan x="353" y="4851.5">+</tspan><tspan x="353" y="4871.5">+</tspan><tspan x="353" y="4891.5">+</tspan><tspan x="353" y="4911.5">+</tspan><tspan x="353" y="4931.5">+</tspan><tspan x="353" y="4951.5">+</tspan></text>
<text><tspan x="372" y="4771.5">UniqueArray()</tspan><tspan x="372" y="4791.5">UniqueArray()</tspan><tspan x="372" y="4811.5">UniqueArray()</tspan><tspan x="372" y="4831.5">UniqueArray()</tspan><tspan x="372" y="4851.5">UniqueArray()</tspan><tspan x="372" y="4871.5">UniqueArray()</tspan><tspan x="372" y="4891.5">UniqueArray()</tspan><tspan x="372" y="4911.5">UniqueArray()</tspan><tspan x="372" y="4931.5">UniqueArray()</tspan><tspan x="372" y="4951.5">UniqueArray()</tspan><tspan x="372" y="4971.5">et 27 de plus...</tspan></text>
</g>

<g id="n-uniquearray-ivariable">
<rect class="b" x="528.4" y="4701" width="165" height="280"/>
<text x="535" y="4717">Arccore::UniqueArray</text>
<text x="535" y="4731.5">&lt; Arcane::IVariable * &gt;</text>
<path class="d" d="M528.4,4739H693.4M528.4,4758H693.4"/>
<text class="c"><tspan x="548" y="4771.5">+</tspan><tspan x="548" y="4791.5">+</tspan><tspan x="548" y="4811.5">+</tspan><tspan x="548" y="4831.5">+</tspan><tspan x="548" y="4851.5">+</tspan><tspan x="548" y="4871.5">+</tspan><tspan x="548" y="4891.5">+</tspan><tspan x="548" y="4911.5">+</tspan><tspan x="548" y="4931.5">+</tspan><tspan x="548" y="4951.5">+</tspan></text>
<text><tspan x="571" y="4771.5">UniqueArray()</tspan><tspan x="571" y="4791.5">UniqueArray()</tspan><tspan x="571" y="4811.5">UniqueArray()</tspan><tspan x="571" y="4831.5">UniqueArray()</tspan><tspan x="571" y="4851.5">UniqueArray()</tspan><tspan x="571" y="4871.5">UniqueArray()</tspan><tspan x="571" y="4891.5">UniqueArray()</tspan><tspan x="571" y="4911.5">UniqueArray()</tspan><tspan x="571" y="4931.5">UniqueArray()</tspan><tspan x="571" y="4951.5">UniqueArray()</tspan><tspan x="571" y="4971.5">et 27 de plus...</tspan></text>
</g>

<g id="n-uniquearray-inumericdatainternal">
<rect class="b" x="702.6" y="5028" width="248" height="280"/>
<text x="709.3" y="5044">Arccore::UniqueArray</text>
<text x="709.3" y="5058.5">&lt; Arcane::INumericDataInternal * &gt;</text>
<path class="d" d="M702.6,5066H950.6M702.6,5086H950.6"/>
<text class="c"><tspan x="744" y="5099.5">+</tspan><tspan x="744" y="5119.5">+</tspan><tspan x="744" y="5139.5">+</tspan><tspan x="744" y="5159.5">+</tspan><tspan x="744" y="5179.5">+</tspan><tspan x="744" y="5199.5">+</tspan><tspan x="744" y="5219.5">+</tspan><tspan x="744" y="5239.5">+</tspan><tspan x="744" y="5259.5">+</tspan><tspan x="744" y="5279.5">+</tspan></text>
<text><tspan x="787" y="5099.5">UniqueArray()</tspan><tspan x="787" y="5119.5">UniqueArray()</tspan><tspan x="787" y="5139.5">UniqueArray()</tspan><tspan x="787" y="5159.5">UniqueArray()</tspan><tspan x="787" y="5179.5">UniqueArray()</tspan><tspan x="787" y="5199.5">UniqueArray()</tspan><tspan x="787" y="5219.5">UniqueArray()</tspan><tspan x="787" y="5239.5">UniqueArray()</tspan><tspan x="787" y="5259.5">UniqueArray()</tspan><tspan x="787" y="5279.5">UniqueArray()</tspan><tspan x="787" y="5299.5">et 27 de plus...</tspan></text>
</g>

<g id="n-reftraitstagid">
<rect class="u" x="1054" y="4794" width="270.6" height="95"/>
<text x="1061.8" y="4810">Arccore::RefTraitsTagId</text>
<text x="1061.8" y="4824.5">&lt; Arcane::IDataSynchronizeDispatcher,</text>
<text class="c" x="1189.3" y="4839">ImplTagId &gt;</text>
<path class="du" d="M1054,4846H1324.6M1054,4866H1324.6"/>
</g>

<g id="n-refbase">
<rect class="b" x="1349" y="4809" width="126" height="65"/>
<text class="c" x="1412" y="4824.5">Arccore::RefBase</text>
<path class="d" d="M1349,4832H1475M1349,4852H1475"/>
</g>

<g id="n-ref">
<rect class="b" x="1191" y="5332" width="221" height="539.5"/>
<text x="1197.4" y="5348">Arccore::Ref&lt; Arcane</text>
<text x="1197.4" y="5362.5">::IDataSynchronizeDispatcher &gt;</text>
<path class="d" d="M1191,5370H1412M1191,5390H1412"/>
<text class="c"><tspan x="1214.4" y="5383.5">+</tspan><tspan x="1214.4" y="5403.5">+</tspan><tspan x="1214.4" y="5423.5">+</tspan><tspan x="1214.4" y="5443.5">+</tspan><tspan x="1214.4" y="5463.5">+</tspan><tspan x="1214.4" y="5483.5">+</tspan><tspan x="1214.4" y="5503.5">+</tspan><tspan x="1214.4" y="5523.5">+</tspan><tspan x="1214.4" y="5543.5">+</tspan><tspan x="1214.4" y="5563.5">+</tspan><tspan x="1214.4" y="5583.5">+</tspan><tspan x="1214.4" y="5603.5">+</tspan><tspan x="1214.4" y="5623.5">+</tspan><tspan x="1214.4" y="5643.5">+</tspan><tspan x="1214.4" y="5663.5">+</tspan><tspan x="1214.4" y="5683.5">+</tspan><tspan x="1214.4" y="5703.5">+</tspan><tspan x="1214.4" y="5723.5">-</tspan><tspan x="1214.4" y="5743.5">-</tspan><tspan x="1214.4" y="5763.5">-</tspan><tspan x="1214.4" y="5783.5">-</tspan><tspan x="1214.4" y="5803.5">-</tspan><tspan x="1214.4" y="5823.5">-</tspan><tspan x="1214.4" y="5843.5">-</tspan><tspan x="1214.4" y="5863.5">-</tspan></text>
<text><tspan x="1239" y="5383.5">RefType</tspan><tspan x="1239" y="5403.5">Ref()</tspan><tspan x="1239" y="5423.5">Ref()</tspan><tspan x="1239" y="5443.5">Ref()</tspan><tspan x="1239" y="5463.5">operator=()</tspan><tspan x="1239" y="5483.5">~Ref()</tspan><tspan x="1239" y="5503.5">operator bool()</tspan><tspan x="1239" y="5523.5">get()</tspan><tspan x="1239" y="5543.5">isNull()</tspan><tspan x="1239" y="5563.5">operator-&gt;()</tspan><tspan x="1239" y="5583.5">reset()</tspan><tspan x="1239" y="5603.5">_release()</tspan><tspan x="1239" y="5623.5">_internalInstance()</tspan><tspan x="1239" y="5643.5">create()</tspan><tspan x="1239" y="5663.5">createRef()</tspan><tspan x="1239" y="5683.5">createWithHandle()</tspan><tspan x="1239" y="5703.5">_createNoDestroy()</tspan><tspan x="1239" y="5723.5">Ref()</tspan><tspan x="1239" y="5743.5">Ref()</tspan><tspan x="1239" y="5763.5">Ref()</tspan><tspan x="1239" y="5783.5">Ref()</tspan><tspan x="1239" y="5803.5">_createBasicDeleter()</tspan><tspan x="1239" y="5823.5">_createBasicDeleter()</tspan><tspan x="1239" y="5843.5">_getDeleter()</tspan><tspan x="1239" y="5863.5">_getDeleter()</tspan></text>
</g>

<g id="n-ivariablesynchronizermng">
<rect class="b" x="930" y="5475" width="236" height="254"/>
<text class="c" x="1048" y="5490.5">Arcane::IVariableSynchronizerMng</text>
<path class="d" d="M930,5498.5H1166M930,5518H1166"/>
<text class="c"><tspan x="941.8" y="5531.5">+</tspan><tspan x="941.8" y="5551.5">+</tspan><tspan x="941.8" y="5571.5">+</tspan><tspan x="941.8" y="5591.5">+</tspan><tspan x="941.8" y="5626">+</tspan><tspan x="941.8" y="5646">+</tspan><tspan x="941.8" y="5680.5">+</tspan><tspan x="941.8" y="5700.5">+</tspan><tspan x="941.8" y="5720.5">+</tspan></text>
<text><tspan x="953.8" y="5531.5">~IVariableSynchronizerMng()</tspan><tspan x="953.8" y="5551.5">parallelMng()</tspan><tspan x="953.8" y="5571.5">onSynchronized()</tspan><tspan x="953.8" y="5591.5">setSynchronizationCompare</tspan><tspan x="953.8" y="5606">Level()</tspan><tspan x="953.8" y="5626">synchronizationCompareLevel()</tspan><tspan x="953.8" y="5646">isSynchronizationComparison</tspan><tspan x="953.8" y="5660.5">Enabled()</tspan><tspan x="953.8" y="5680.5">dumpStats()</tspan><tspan x="953.8" y="5700.5">flushPendingStats()</tspan><tspan x="953.8" y="5720.5">_internalApi()</tspan></text>
</g>

<g id="n-idatasynchronizemultidispatcher">
<rect class="b" x="1436.6" y="5522" width="266" height="160"/>
<text class="c" x="1569.6" y="5538">Arcane::IDataSynchronize</text>
<text class="c" x="1569.6" y="5552.5">MultiDispatcher</text>
<path class="d" d="M1436.6,5560H1702.6M1436.6,5579H1702.6"/>
<text class="c"><tspan x="1446.7" y="5592.5">+</tspan><tspan x="1446.7" y="5612.5">+</tspan><tspan x="1446.7" y="5632.5">+</tspan><tspan x="1446.7" y="5652.5">+</tspan><tspan x="1446.7" y="5672.5">+</tspan></text>
<text><tspan x="1458.7" y="5592.5">~IDataSynchronizeMultiDispatcher()</tspan><tspan x="1458.7" y="5612.5">compute()</tspan><tspan x="1458.7" y="5632.5">setSynchronizeBuffer()</tspan><tspan x="1458.7" y="5652.5">synchronize()</tspan><tspan x="1458.7" y="5672.5">create()</tspan></text>
</g>

<g id="n-datasynchronizeresult">
<rect class="b" x="1726.7" y="5560" width="219" height="84.5"/>
<text class="c" x="1836.2" y="5575.5">Arcane::DataSynchronizeResult</text>
<path class="d" d="M1726.7,5582H1945.7M1726.7,5602H1945.7"/>
<text class="c"><tspan x="1752" y="5595.5">-</tspan><tspan x="1752" y="5615.5">+</tspan><tspan x="1752" y="5635.5">+</tspan></text>
<text><tspan x="1778.6" y="5595.5">m_compare_status</tspan><tspan x="1778.6" y="5615.5">compareStatus()</tspan><tspan x="1778.6" y="5635.5">setCompareStatus()</tspan></text>
</g>

<g id="n-variablesynchronizereventargs">
<rect class="b" x="387.6" y="5395" width="246.2" height="414"/>
<text class="c" x="510.7" y="5411">Arcane::VariableSynchronizer</text>
<text class="c" x="510.7" y="5425.5">EventArgs</text>
<path class="d" d="M387.6,5432.7H633.8M387.6,5472.7H633.8"/>
<text class="c"><tspan x="398.7" y="5446.2">-</tspan><tspan x="398.7" y="5466.2">-</tspan><tspan x="398.7" y="5486.2">+</tspan><tspan x="398.7" y="5506.2">+</tspan><tspan x="398.7" y="5526.2">+</tspan><tspan x="398.7" y="5546.2">+</tspan><tspan x="398.7" y="5566.2">+</tspan><tspan x="398.7" y="5600.7">+</tspan><tspan x="398.7" y="5620.7">+</tspan><tspan x="398.7" y="5640.7">+</tspan><tspan x="398.7" y="5660.7">+</tspan><tspan x="398.7" y="5680.7">+</tspan><tspan x="398.7" y="5700.7">+</tspan><tspan x="398.7" y="5720.7">+</tspan><tspan x="398.7" y="5740.7">+</tspan><tspan x="398.7" y="5760.7">+</tspan><tspan x="398.7" y="5780.7">+</tspan><tspan x="398.7" y="5800.7">-</tspan></text>
<text><tspan x="410.9" y="5446.2">m_elapsed_time</tspan><tspan x="410.9" y="5466.2">m_state</tspan><tspan x="410.9" y="5486.2">ARCANE_DEPRECATED_REASON()</tspan><tspan x="410.9" y="5506.2">ARCANE_DEPRECATED_REASON()</tspan><tspan x="410.9" y="5526.2">ARCANE_DEPRECATED_REASON()</tspan><tspan x="410.9" y="5546.2">ARCANE_DEPRECATED_REASON()</tspan><tspan x="410.9" y="5566.2">VariableSynchronizerEvent</tspan><tspan x="410.9" y="5580.7">Args()</tspan><tspan x="410.9" y="5600.7">initialize()</tspan><tspan x="410.9" y="5620.7">initialize()</tspan><tspan x="410.9" y="5640.7">synchronizer()</tspan><tspan x="410.9" y="5660.7">variables()</tspan><tspan x="410.9" y="5680.7">compareStatusList()</tspan><tspan x="410.9" y="5700.7">setCompareStatus()</tspan><tspan x="410.9" y="5720.7">elapsedTime()</tspan><tspan x="410.9" y="5740.7">setElapsedTime()</tspan><tspan x="410.9" y="5760.7">state()</tspan><tspan x="410.9" y="5780.7">setState()</tspan><tspan x="410.9" y="5800.7">_reset()</tspan></text>
</g>

<g id="n-syncmessage">
<rect class="h" x="718.3" y="5935" width="204" height="319"/>
<text class="c" x="820.3" y="5951">Arcane::VariableSynchronizer</text>
<text class="c" x="820.3" y="5965.5">::SyncMessage</text>
<path class="d" d="M718.3,5971.5H922.3M718.3,5991.7H922.3"/>
<text class="c"><tspan x="743.4" y="6005.2">+</tspan><tspan x="743.4" y="6025.2">+</tspan><tspan x="743.4" y="6045.2">+</tspan><tspan x="743.4" y="6065.2">+</tspan><tspan x="743.4" y="6085.2">+</tspan><tspan x="743.4" y="6105.2">+</tspan><tspan x="743.4" y="6125.2">+</tspan><tspan x="743.4" y="6145.2">+</tspan><tspan x="743.4" y="6165.2">+</tspan><tspan x="743.4" y="6185.2">+</tspan><tspan x="743.4" y="6205.2">+</tspan><tspan x="743.4" y="6225.2">-</tspan><tspan x="743.4" y="6245.2">-</tspan></text>
<text><tspan x="769.8" y="6005.2">SyncMessage()</tspan><tspan x="769.8" y="6025.2">~SyncMessage()</tspan><tspan x="769.8" y="6045.2">compute()</tspan><tspan x="769.8" y="6065.2">initialize()</tspan><tspan x="769.8" y="6085.2">initialize()</tspan><tspan x="769.8" y="6105.2">nbVariable()</tspan><tspan x="769.8" y="6125.2">variables()</tspan><tspan x="769.8" y="6145.2">synchronize()</tspan><tspan x="769.8" y="6165.2">synchronizeData()</tspan><tspan x="769.8" y="6185.2">result()</tspan><tspan x="769.8" y="6205.2">eventArgs()</tspan><tspan x="769.8" y="6225.2">_reset()</tspan><tspan x="769.8" y="6245.2">_addVariable()</tspan></text>
</g>
</svg>
